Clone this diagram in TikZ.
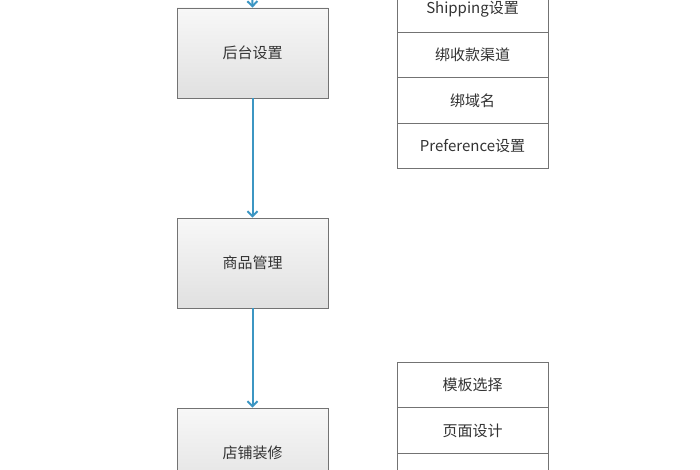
\documentclass[tikz,border=0pt]{standalone}
\usepackage{fontspec}
\newfontfamily\cjk{Noto Sans CJK SC}
\begin{document}
\begin{tikzpicture}[x=1pt,y=-1pt,
  mainbox/.style={draw=black!55,line width=0.8pt,top color=black!3,bottom color=black!12,minimum width=151pt,minimum height=90pt,inner sep=0pt,font=\cjk\fontsize{15}{18}\selectfont,text=black!80},
  cell/.style={draw=black!55,line width=0.8pt,fill=white,minimum width=151pt,minimum height=45.5pt,inner sep=0pt,font=\cjk\fontsize{15}{18}\selectfont,text=black!80},
  flow/.style={draw={rgb,255:red,60;green,150;blue,195},line width=2pt,-{Straight Barb[length=5pt,width=10pt]}}]
\useasboundingbox (0,0) rectangle (700,470);
\clip (0,0) rectangle (700,470);
\usetikzlibrary{arrows.meta}
\coordinate (top) at (252,-20);
\node[mainbox] (a) at (252.5,53) {后台设置};
\node[mainbox] (b) at (252.5,263) {商品管理};
\node[mainbox] (c) at (252.5,453) {店铺装修};
\draw[flow] (top) -- (a.north);
\draw[flow] (a) -- (b);
\draw[flow] (b) -- (c);
\node[cell] (r1) at (472.5,9.5) {Shipping设置};
\node[cell] (r2) at (472.5,55) {绑收款渠道};
\node[cell] (r3) at (472.5,100.5) {绑域名};
\node[cell] (r4) at (472.5,146) {Preference设置};
\node[cell] (s1) at (472.5,385) {模板选择};
\node[cell] (s2) at (472.5,430.5) {页面设计};
\node[cell] (s3) at (472.5,476) {};
\end{tikzpicture}
\end{document}
